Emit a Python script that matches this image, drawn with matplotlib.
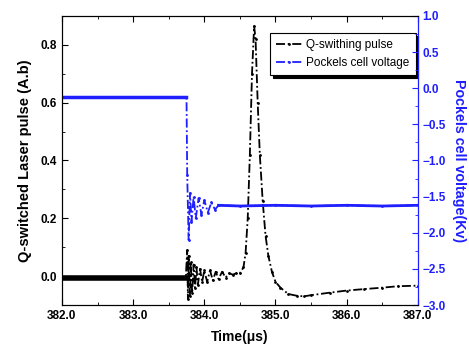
import matplotlib.pyplot as plt
import numpy as np

plt.rcParams['font.family'] = ['Liberation Sans', 'DejaVu Sans']

# Q-switched pulse (time in units of 10 us, amplitude in A.b)
t_pulse = [382.0, 382.5, 383.0, 383.5, 383.74,
           383.76, 383.77, 383.78, 383.80, 383.81, 383.83, 383.85, 383.87, 383.89,
           383.91, 383.94, 383.97, 384.00, 384.04, 384.08, 384.12, 384.16, 384.20,
           384.25, 384.30, 384.35, 384.40, 384.45, 384.50, 384.55, 384.58, 384.61,
           384.64, 384.67, 384.70, 384.72, 384.75, 384.78, 384.82, 384.86, 384.90,
           384.95, 385.00, 385.07, 385.18, 385.30, 385.40, 385.50, 385.77, 386.00,
           386.24, 386.50, 386.72, 387.00]
v_pulse = [-0.005, -0.005, -0.005, -0.005, -0.005,
           0.09, -0.08, 0.07, -0.07, 0.05, -0.06, 0.04, -0.04, 0.03,
           -0.03, 0.025, -0.02, 0.02, -0.02, 0.02, -0.015, 0.015, -0.01,
           0.015, -0.005, 0.01, 0.005, 0.01, 0.01, 0.03, 0.08, 0.2,
           0.42, 0.7, 0.865, 0.82, 0.6, 0.42, 0.26, 0.14, 0.07,
           0.015, -0.02, -0.04, -0.062, -0.068, -0.07, -0.066, -0.057, -0.05,
           -0.045, -0.04, -0.035, -0.033]

# Pockels cell voltage (kV)
t_pockels = [382.0, 382.5, 383.0, 383.5, 383.75, 383.76, 383.78, 383.80, 383.82,
             383.85, 383.88, 383.92, 383.96, 384.00, 384.05, 384.10, 384.15,
             384.20, 384.5, 385.0, 385.5, 386.0, 386.5, 387.0]
v_pockels = [-0.12, -0.12, -0.12, -0.12, -0.12, -1.2, -2.1, -1.45, -1.85,
             -1.5, -1.8, -1.52, -1.75, -1.55, -1.72, -1.58, -1.68,
             -1.62, -1.63, -1.62, -1.63, -1.62, -1.63, -1.62]

xticks = [382.0, 383.0, 384.0, 385.0, 386.0, 387.0]
blue = '#1f1fff'

fig = plt.figure(figsize=(4.69, 3.47), dpi=100)
ax = fig.add_axes([0.132, 0.121, 0.759, 0.833])
ax2 = ax.twinx()

lq, = ax.plot(t_pulse, v_pulse, color='black', lw=1.3, ls=(0, (5, 1.5, 1, 1.5)),
              marker='.', ms=2, label='Q-swithing pulse', zorder=3)
# thick noisy baseline before the trigger
ax.plot(t_pulse[:5], v_pulse[:5], color='black', lw=4, zorder=3)

lp, = ax2.plot(t_pockels, v_pockels, color=blue, lw=1.3, ls=(0, (5, 1.5, 1, 1.5)),
               marker='.', ms=2, label='Pockels cell voltage')
ax2.plot(t_pockels[:5], v_pockels[:5], color=blue, lw=2.5)
ax2.plot(t_pockels[17:], v_pockels[17:], color=blue, lw=2)

ax.set_xlim(382.0, 387.0)
ax.set_ylim(-0.1, 0.9)
ax2.set_ylim(-3.0, 1.0)

ax.set_xticks(xticks)
ax.set_xticklabels([f'{x:.1f}' for x in xticks])
ax.set_xticks(np.arange(382.5, 387.0, 1.0), minor=True)
ax.set_yticks([0.0, 0.2, 0.4, 0.6, 0.8])
ax.set_yticks([0.1, 0.3, 0.5, 0.7], minor=True)
ax2.set_yticks(np.arange(-3.0, 1.01, 0.5))
ax2.set_yticks(np.arange(-2.75, 1.0, 0.5), minor=True)

ax.tick_params(which='both', direction='in', top=True, right=False, labelsize=8.5)
ax.tick_params(which='major', length=4)
ax.tick_params(which='minor', length=2.5)
for lab in ax.get_xticklabels() + ax.get_yticklabels():
    lab.set_fontweight('bold')

ax2.tick_params(which='both', direction='in', colors=blue, labelsize=8.5)
ax2.tick_params(which='major', length=4)
ax2.tick_params(which='minor', length=2.5)
for lab in ax2.get_yticklabels():
    lab.set_fontweight('bold')
ax2.spines['right'].set_color(blue)

ax.set_xlabel('Time(μs)', fontsize=10, fontweight='bold', labelpad=6)
ax.set_ylabel('Q-switched Laser pulse (A.b)', fontsize=10.5, fontweight='bold', labelpad=6)
ax2.set_ylabel('Pockels cell voltage(Kv)', fontsize=10.3, fontweight='bold', color=blue,
               rotation=270, labelpad=14)

leg = ax.legend([lq, lp], ['Q-swithing pulse', 'Pockels cell voltage'],
                loc='upper right', bbox_to_anchor=(1.01, 0.96), fontsize=8.5,
                frameon=True, fancybox=False, shadow={'color': 'black', 'alpha': 1},
                borderpad=0.5, handlelength=2.2, handletextpad=0.4, labelspacing=0.5)
leg.get_frame().set_edgecolor('black')
leg.get_frame().set_linewidth(0.8)

fig.savefig('out.png', dpi=100)
